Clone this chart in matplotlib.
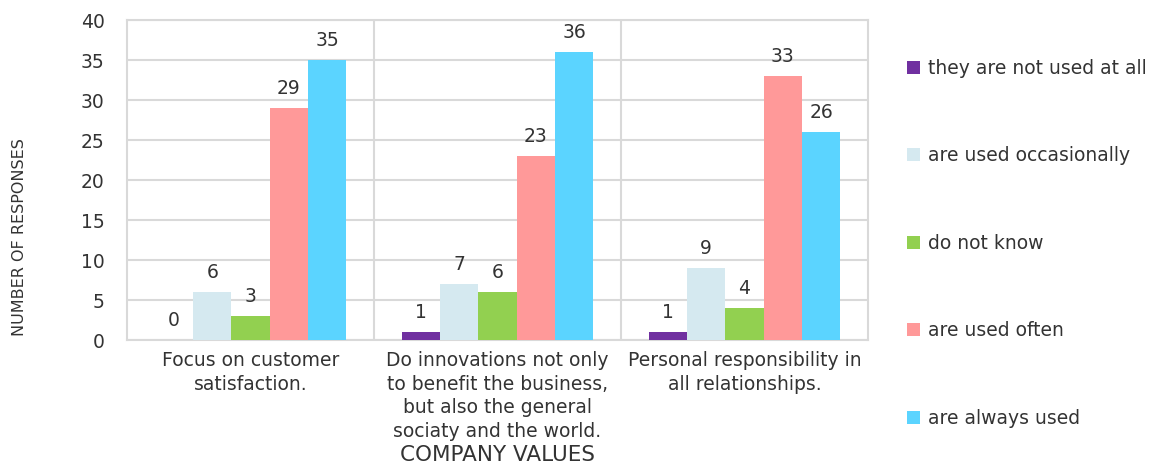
import matplotlib
matplotlib.use("Agg")
import matplotlib.pyplot as plt
import numpy as np

categories = ["Focus on customer\nsatisfaction.",
              "Do innovations not only\nto benefit the business,\nbut also the general\nsociaty and the world.",
              "Personal responsibility in\nall relationships."]
series_names = ["they are not used at all", "are used occasionally", "do not know",
                "are used often", "are always used"]
not_used = [0, 1, 1]
occasionally = [6, 7, 9]
do_not_know = [3, 6, 4]
often = [29, 23, 33]
always = [35, 36, 26]
series_values = [not_used, occasionally, do_not_know, often, always]
colors = ["#7030A0", "#D5E9F0", "#92D050", "#FF9999", "#5BD4FF"]
yticks = [0, 5, 10, 15, 20, 25, 30, 35, 40]

plt.rcParams['font.family'] = ['DejaVu Sans']
txt = "#333333"
fs = 13.5
fig = plt.figure(figsize=(11.56, 4.63), dpi=100)
ax = fig.add_axes([127/1156, 1-340/463, (868-127)/1156, 320/463])

x = np.arange(len(categories))
w = 0.155
handles = []
for i, (vals, c, name) in enumerate(zip(series_values, colors, series_names)):
    pos = x + (i - 2) * w
    b = ax.bar(pos, vals, width=w, color=c, label=name, zorder=3)
    handles.append(b)
    for p, v in zip(pos, vals):
        ax.annotate(str(v), (p, v), xytext=(0, 7), textcoords="offset points",
                    ha="center", va="bottom", fontsize=fs, color=txt)

ax.set_xlim(-0.5, 2.5)
ax.set_ylim(0, 40)
ax.set_yticks(yticks)
ax.set_xticks(x)
ax.set_xticklabels(categories, fontsize=fs, color=txt, linespacing=1.3)
ax.tick_params(axis='y', labelsize=fs, colors=txt, length=0, pad=16)
ax.tick_params(axis='x', length=0, pad=8)
ax.grid(axis='y', color="#D9D9D9", linewidth=1.5, zorder=0)
for xb in [0.5, 1.5]:
    ax.axvline(xb, color="#D9D9D9", linewidth=1.5, zorder=0)
for s in ax.spines.values():
    s.set_color("#D9D9D9")
    s.set_linewidth(1.5)

fig.text(20/1156, 1-237/463, "NUMBER OF RESPONSES", rotation=90, ha="center", va="center",
         fontsize=11.5, color=txt, family=['Liberation Sans Narrow', 'DejaVu Sans'])
fig.text(497/1156, 1-455/463, "COMPANY VALUES", ha="center", va="center",
         fontsize=15.5, color=txt)

fig.legend(handles=handles, labels=series_names, loc="upper left",
           bbox_to_anchor=(890/1156, 1-42/463), frameon=False, fontsize=fs,
           handlelength=0.7, handleheight=0.7, handletextpad=0.4, labelspacing=3.65,
           labelcolor=txt)

fig.savefig("out.png", dpi=100)
